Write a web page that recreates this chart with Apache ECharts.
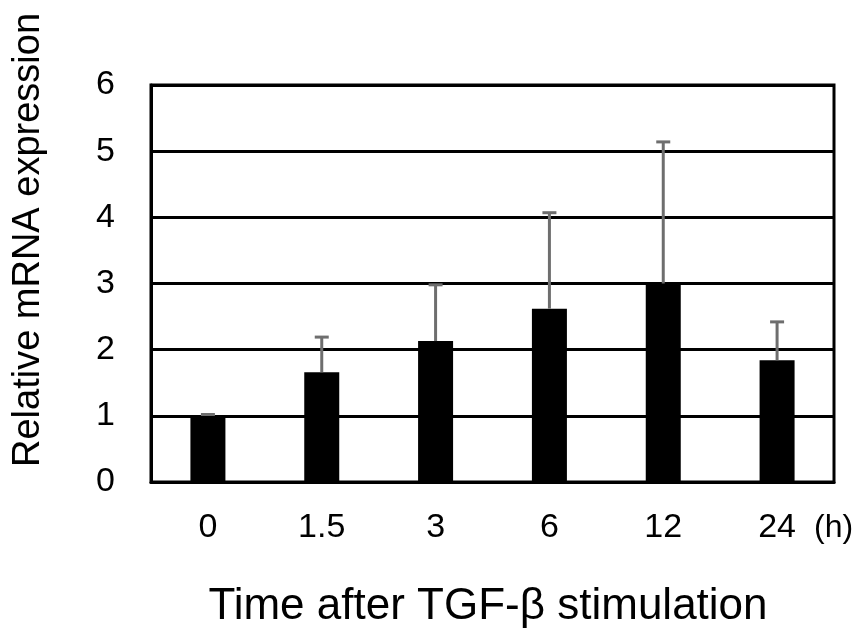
<!DOCTYPE html>
<html>
<head>
<meta charset="utf-8">
<script src="https://cdn.jsdelivr.net/npm/echarts@6/dist/echarts.min.js"></script>
<style>
  html, body { margin: 0; padding: 0; background: #fff; }
  #chart { width: 861px; height: 636px; }
</style>
</head>
<body>
<div id="chart"></div>
<script>
// time points (h)
var categories = ['0', '1.5', '3', '6', '12', '24'];
// mean relative expression
var means = [1.0, 1.66, 2.13, 2.62, 3.0, 1.84];
// upper error (SD)
var errors = [0.02, 0.53, 0.85, 1.45, 2.14, 0.58];
var yTicks = [0, 1, 2, 3, 4, 5, 6];

var chart = echarts.init(document.getElementById('chart'));
var font = 'Liberation Sans, Arial, sans-serif';

var errData = means.map(function (m, i) { return [i, m, m + errors[i]]; });

chart.setOption({
  animation: false,
  grid: {
    left: 151, top: 85, right: 27, bottom: 154,
    outerBoundsMode: 'none',
    show: true, borderColor: '#000', borderWidth: 3
  },
  graphic: [
    {
      type: 'text', x: 488, y: 607,
      style: {
        text: 'Time after TGF-β stimulation', fill: '#000',
        font: '44px ' + font, textAlign: 'center', textVerticalAlign: 'middle'
      }
    },
    {
      type: 'text', x: 29, y: 240, rotation: Math.PI / 2,
      style: {
        text: 'Relative mRNA expression', fill: '#000',
        font: '38px ' + font, textAlign: 'center', textVerticalAlign: 'middle'
      }
    }
  ],
  xAxis: {
    type: 'category',
    data: categories,
    name: '(h)',
    nameLocation: 'end',
    nameGap: -20,
    nameTextStyle: { fontFamily: font, fontSize: 32, color: '#000', verticalAlign: 'top', padding: [30, 0, 0, 0] },
    axisLine: { lineStyle: { color: '#000', width: 3 } },
    axisTick: { show: false },
    axisLabel: { fontFamily: font, fontSize: 34, color: '#000', margin: 29 }
  },
  yAxis: {
    type: 'value',
    min: 0, max: 6, interval: 1,
    axisLine: { show: true, lineStyle: { color: '#000', width: 3 } },
    axisTick: { show: false },
    splitLine: { lineStyle: { color: '#000', width: 3 } },
    axisLabel: {
      fontFamily: font, fontSize: 34, color: '#000', margin: 36,
      formatter: function (v) { return yTicks.indexOf(v) >= 0 ? String(v) : ''; }
    }
  },
  series: [
    {
      type: 'bar',
      data: means,
      barWidth: 35,
      itemStyle: { color: '#000' },
      z: 3
    },
    {
      type: 'custom',
      data: errData,
      z: 4,
      renderItem: function (params, api) {
        var base = api.coord([api.value(0), api.value(1)]);
        var top = api.coord([api.value(0), api.value(2)]);
        var half = 7;
        var style = { stroke: '#6e6e6e', lineWidth: 3 };
        return {
          type: 'group',
          children: [
            { type: 'line', shape: { x1: base[0], y1: base[1], x2: top[0], y2: top[1] }, style: style },
            { type: 'line', shape: { x1: top[0] - half, y1: top[1], x2: top[0] + half, y2: top[1] }, style: style }
          ]
        };
      }
    }
  ]
});
</script>
</body>
</html>
